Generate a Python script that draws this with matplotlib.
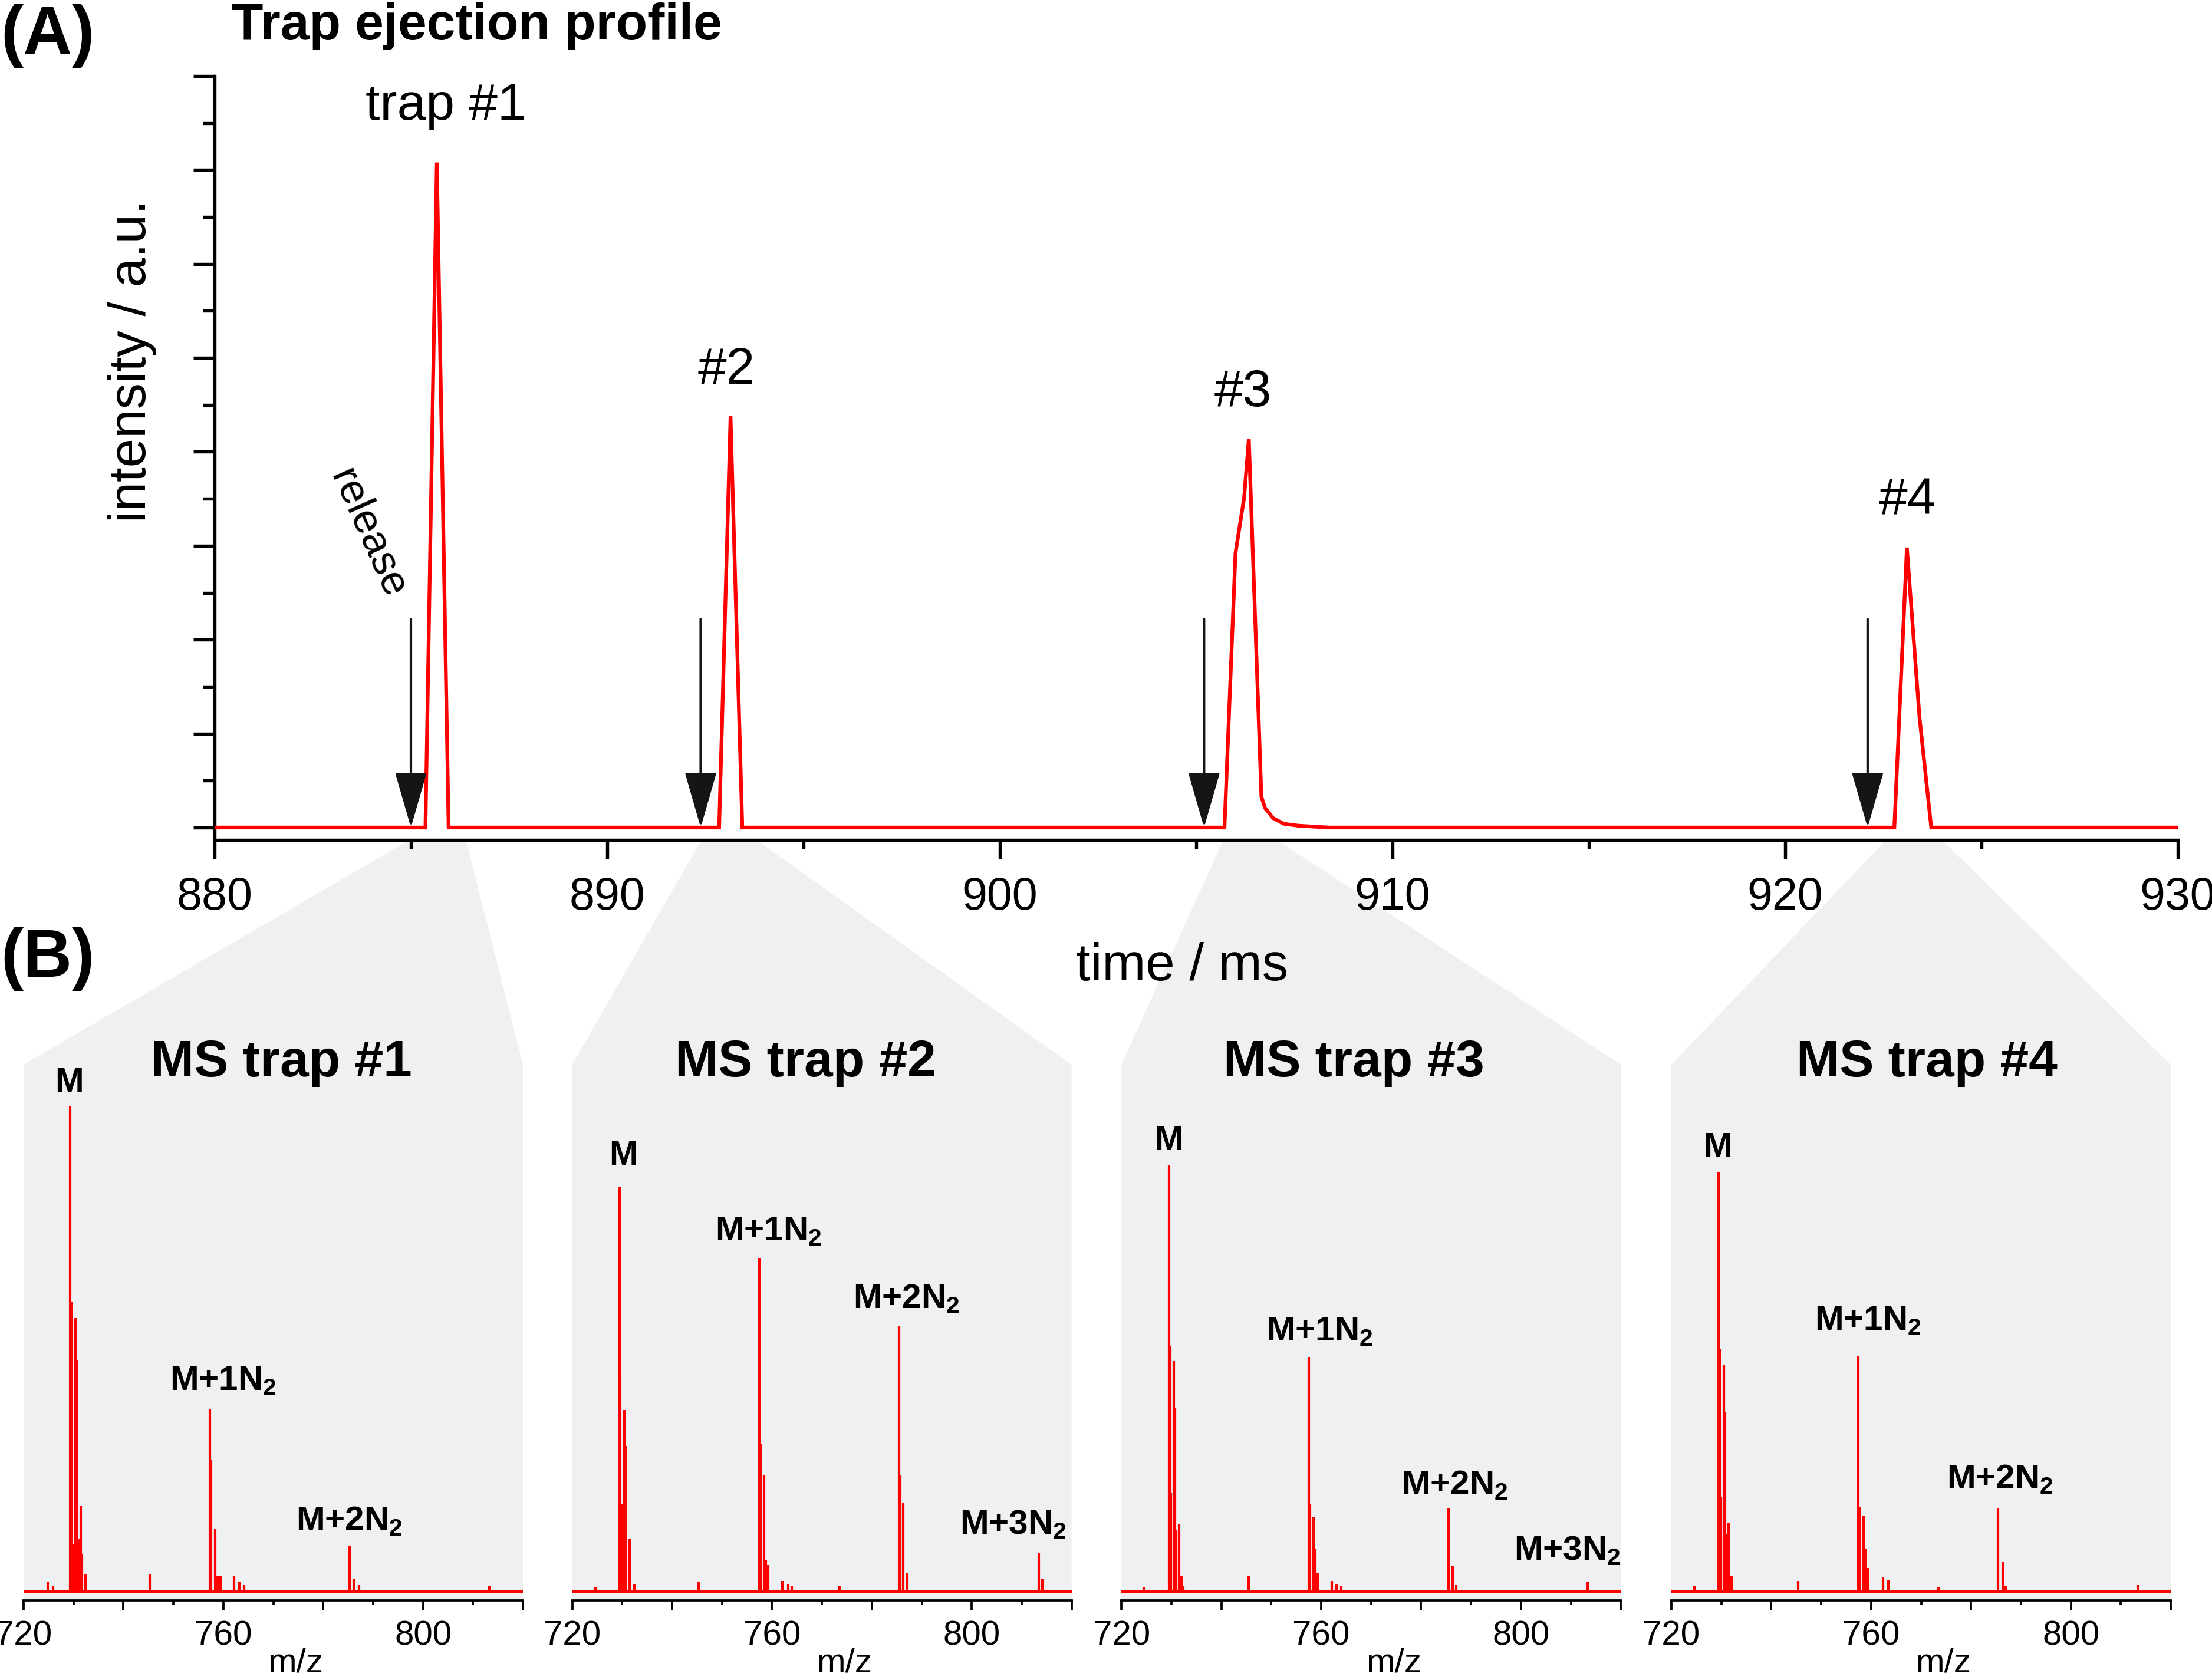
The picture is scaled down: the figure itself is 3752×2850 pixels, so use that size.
import matplotlib.pyplot as plt
import numpy as np
from matplotlib.patches import Polygon
from matplotlib.ticker import MultipleLocator, FuncFormatter

# -----------------------------
# FONTS / COLOURS
# -----------------------------
plt.rcParams["font.family"] = ["Liberation Sans", "DejaVu Sans"]
plt.rcParams["mathtext.fontset"] = "custom"
plt.rcParams["mathtext.rm"] = "Liberation Sans:bold"
plt.rcParams["mathtext.it"] = "Liberation Sans:bold"
plt.rcParams["mathtext.bf"] = "Liberation Sans:bold"

RED = "#ff0000"
GREY = "#eff0f2"
INK = "#151515"

# -----------------------------
# DATA (A): trap ejection profile
# -----------------------------
TIME_MS = [880.0, 885.37, 885.66, 885.96, 892.85, 893.14, 893.44,
           905.72, 906.0, 906.22, 906.34, 906.66, 906.75, 906.96, 907.23,
           907.59, 908.38, 922.78, 923.1, 923.42, 923.72, 930.0]
EJECTION_SIGNAL = [0, 0, 7.08, 0, 0, 4.38, 0,
                   0, 2.92, 3.51, 4.14, 0.33, 0.21, 0.10, 0.04,
                   0.02, 0, 0, 2.98, 1.18, 0, 0]
RELEASE_MS = [885.0, 892.38, 905.2, 922.1]
TRAP_TAGS = ["trap #1", "#2", "#3", "#4"]

# -----------------------------
# DATA (B): mass spectra of the four traps
# -----------------------------
MZ_TRAP1 = [724.8, 725.9, 729.3, 729.55, 729.8, 730.4, 730.65, 731.0, 731.4,
            731.7, 732.4, 745.3, 757.3, 757.55, 758.4, 758.9, 759.4, 762.1,
            763.2, 764.2, 785.3, 786.1, 787.2, 813.3]
INT_TRAP1 = [0.019, 0.011, 0.922, 0.55, 0.09, 0.519, 0.44, 0.10, 0.162,
             0.07, 0.034, 0.032, 0.346, 0.25, 0.12, 0.03, 0.03, 0.029,
             0.018, 0.014, 0.087, 0.023, 0.012, 0.010]

MZ_TRAP2 = [724.7, 729.45, 729.65, 729.9, 730.45, 730.7, 731.5, 732.4, 745.3,
            757.45, 757.7, 758.45, 758.8, 759.3, 762.1, 763.2, 764.0, 773.5,
            785.4, 785.65, 786.3, 787.1, 813.4, 814.2]
INT_TRAP2 = [0.008, 0.769, 0.41, 0.167, 0.344, 0.276, 0.10, 0.015, 0.018,
             0.633, 0.28, 0.222, 0.06, 0.05, 0.02, 0.015, 0.01, 0.01,
             0.504, 0.22, 0.168, 0.036, 0.073, 0.025]

MZ_TRAP3 = [724.5, 729.5, 729.75, 729.95, 730.45, 730.7, 731.0, 731.5, 732.0,
            732.4, 745.5, 757.5, 757.75, 758.5, 758.8, 759.3, 762.1, 763.1,
            764.0, 785.5, 786.3, 787.0, 813.4]
INT_TRAP3 = [0.008, 0.810, 0.466, 0.187, 0.439, 0.348, 0.116, 0.129, 0.03,
             0.01, 0.029, 0.4455, 0.166, 0.141, 0.08, 0.036, 0.02, 0.015,
             0.01, 0.158, 0.049, 0.012, 0.0195]

MZ_TRAP4 = [724.6, 729.45, 729.7, 729.95, 730.45, 730.7, 731.0, 731.5, 732.0,
            745.4, 757.45, 757.7, 758.45, 758.8, 759.3, 762.4, 763.4, 773.5,
            785.45, 786.3, 787.0, 813.4]
INT_TRAP4 = [0.01, 0.796, 0.46, 0.18, 0.431, 0.34, 0.11, 0.13, 0.03,
             0.02, 0.447, 0.16, 0.143, 0.08, 0.045, 0.027, 0.022, 0.008,
             0.159, 0.056, 0.01, 0.012]

PANEL_TITLES = ["MS trap #1", "MS trap #2", "MS trap #3", "MS trap #4"]
PEAK_TAGS_1 = ["M", "M+1N$_2$", "M+2N$_2$"]
PEAK_TAGS_2 = ["M", "M+1N$_2$", "M+2N$_2$", "M+3N$_2$"]
PEAK_TAGS_3 = ["M", "M+1N$_2$", "M+2N$_2$", "M+3N$_2$"]
PEAK_TAGS_4 = ["M", "M+1N$_2$", "M+2N$_2$"]

# -----------------------------
# LAYOUT (pixel geometry of the 3752 x 2850 canvas)
# -----------------------------
W_PX, H_PX, DPI = 3752, 2850, 300
TIME_RANGE = (880, 930)
MZ_RANGE = (720, 820)
ARROW_TOP = 2.22

TAG_XY = [(885.89, 7.535), (893.03, 4.726), (906.19, 4.486), (923.12, 3.333)]
WEDGE_MS = [(884.96, 886.4), (892.4, 893.8), (905.69, 907.05), (922.57, 923.99)]
PANEL_LEFT_PX = [40, 970.6, 1902.2, 2835]
PANEL_W_PX = 847
TITLE_X = [0.516, 0.467, 0.465, 0.512]
PEAK_TAG_XY = [
    [(729.2, 0.949), (760.0, 0.383), (785.2, 0.116)],
    [(730.3, 0.810), (759.3, 0.667), (786.9, 0.538), (808.3, 0.110)],
    [(729.5, 0.838), (759.7, 0.477), (786.7, 0.185), (809.3, 0.060)],
    [(729.3, 0.825), (759.4, 0.497), (785.8, 0.196)],
]


def fx(px):
    return px / W_PX


def fy(py):
    return 1 - py / H_PX


fig = plt.figure(figsize=(W_PX / DPI, H_PX / DPI), dpi=DPI)

# -----------------------------
# PANEL (A)
# -----------------------------
ax = fig.add_axes([fx(364), fy(1425), fx(3694) - fx(364), fy(129) - fy(1425)])
ax.set_facecolor("none")
ax.plot(TIME_MS, EJECTION_SIGNAL, color=RED, lw=1.5, solid_joinstyle="miter", zorder=3)
ax.set_xlim(*TIME_RANGE)
ax.set_ylim(-0.132, 8)

for side in ("top", "right"):
    ax.spines[side].set_visible(False)
for side in ("left", "bottom"):
    ax.spines[side].set_linewidth(1.3)

ax.xaxis.set_major_locator(MultipleLocator(10))
ax.xaxis.set_minor_locator(MultipleLocator(5))
ax.yaxis.set_major_locator(MultipleLocator(1))
ax.yaxis.set_minor_locator(MultipleLocator(0.5))
ax.yaxis.set_major_formatter(FuncFormatter(lambda v, p: ""))
ax.tick_params(axis="x", which="major", direction="out", length=7.7, width=1.3,
               pad=7, labelsize=18.5)
ax.tick_params(axis="x", which="minor", direction="out", length=3.6, width=1.3)
ax.tick_params(axis="y", which="major", direction="out", length=8.6, width=1.3)
ax.tick_params(axis="y", which="minor", direction="out", length=4.8, width=1.3)

for t in RELEASE_MS:
    ax.annotate("", xy=(t, 0), xytext=(t, ARROW_TOP),
                arrowprops=dict(arrowstyle="-|>,head_length=0.8,head_width=0.23",
                                mutation_scale=25, lw=1.0, color=INK,
                                shrinkA=0, shrinkB=0), zorder=4)

for tag, (tx, ty) in zip(TRAP_TAGS, TAG_XY):
    ax.text(tx, ty, tag, ha="center", va="baseline", fontsize=21)

ax.text(883.9, 3.13, "release", rotation=-66, rotation_mode="anchor",
        ha="center", va="center", fontsize=17)

fig.text(fx(393), fy(67), "Trap ejection profile", fontsize=21,
         fontweight="bold", ha="left", va="baseline")
fig.text(fx(81), fy(61), "(A)", fontsize=27.5, fontweight="bold",
         ha="center", va="center")
fig.text(fx(81), fy(1627), "(B)", fontsize=27.5, fontweight="bold",
         ha="center", va="center")
fig.text(fx(2005), fy(1663), "time / ms", fontsize=21.3, ha="center", va="baseline")
fig.text(fx(224), fy(612), "intensity / a.u.", fontsize=21.3, rotation=90,
         ha="center", va="center")

# -----------------------------
# PANELS (B)
# -----------------------------
spectra = [(MZ_TRAP1, INT_TRAP1), (MZ_TRAP2, INT_TRAP2),
           (MZ_TRAP3, INT_TRAP3), (MZ_TRAP4, INT_TRAP4)]
peak_tags = [PEAK_TAGS_1, PEAK_TAGS_2, PEAK_TAGS_3, PEAK_TAGS_4]

p_top, p_bot = 1806, 2714.5
inv = fig.transFigure.inverted()
ylo = ax.get_ylim()[0]

for i, (mz, inten) in enumerate(spectra):
    x0 = PANEL_LEFT_PX[i]
    pax = fig.add_axes([fx(x0), fy(p_bot), fx(PANEL_W_PX), fy(p_top) - fy(p_bot)])
    pax.set_facecolor("none")
    pax.set_xlim(*MZ_RANGE)
    pax.set_ylim(-0.0162, 1.0)

    pax.axhline(0, color=RED, lw=1.0, zorder=3)
    pax.vlines(mz, 0, inten, color=RED, lw=1.0, zorder=3)

    for side in ("top", "right", "left"):
        pax.spines[side].set_visible(False)
    pax.spines["bottom"].set_linewidth(0.9)
    pax.set_yticks([])
    pax.xaxis.set_major_locator(MultipleLocator(20))
    pax.xaxis.set_minor_locator(MultipleLocator(10))
    pax.xaxis.set_major_formatter(
        FuncFormatter(lambda v, p: f"{v:.0f}" if round(v) % 40 == 0 else ""))
    pax.tick_params(axis="x", which="major", direction="out", length=4.1,
                    width=0.9, pad=4, labelsize=14)
    pax.tick_params(axis="x", which="minor", direction="out", length=2.0, width=0.9)
    pax.text(0.545, -0.088, "m/z", transform=pax.transAxes, ha="center",
             va="top", fontsize=14)

    pax.text(TITLE_X[i], 0.978, PANEL_TITLES[i], transform=pax.transAxes,
             ha="center", va="baseline", fontsize=21, fontweight="bold")
    for tag, (lx, ly) in zip(peak_tags[i], PEAK_TAG_XY[i]):
        pax.text(lx, ly, tag, ha="center", va="baseline", fontsize=14,
                 fontweight="bold")

    # grey zoom wedge joining the time window to its spectrum
    tl, tr = WEDGE_MS[i]
    (wx0, wy0), (wx1, wy1) = inv.transform(ax.transData.transform([(tl, ylo), (tr, ylo)]))
    verts = [(wx0, wy0), (fx(x0), fy(p_top)), (fx(x0), fy(p_bot)),
             (fx(x0 + PANEL_W_PX), fy(p_bot)), (fx(x0 + PANEL_W_PX), fy(p_top)),
             (wx1, wy1)]
    fig.add_artist(Polygon(verts, closed=True, transform=fig.transFigure,
                           facecolor=GREY, edgecolor="none", zorder=-1))

fig.savefig("out.png", dpi=DPI)
plt.close(fig)
